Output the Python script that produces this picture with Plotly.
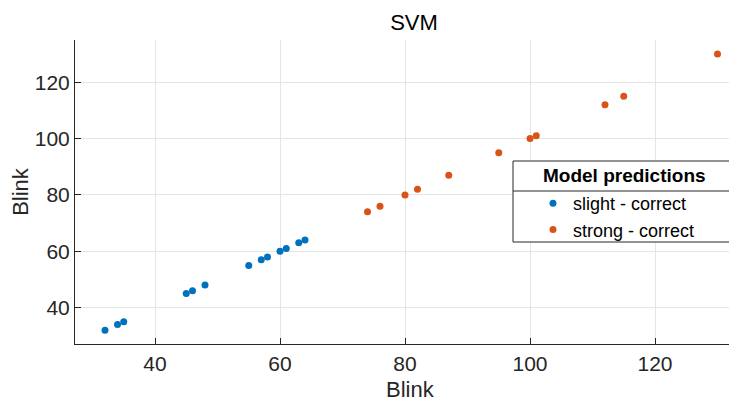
import plotly.graph_objects as go

# Data (x = y = Blink values)
slight_blink = [32, 34, 35, 45, 46, 48, 55, 57, 58, 60, 61, 63, 64]
strong_blink = [74, 76, 80, 82, 87, 95, 100, 101, 112, 115, 130]
x_ticks = [40, 60, 80, 100, 120]
y_ticks = [40, 60, 80, 100, 120]

FONT = "Liberation Sans, Arial, sans-serif"
AX = "#262626"

# the page body adds an 8px offset; size the figure so it fits the window
OFF = 8
W, H = 737 - OFF, 403 - OFF
# plot area in window pixels: x 75..735, y 40..344
L, R, T, B = 75 - OFF, 737 - 735, 40 - OFF, 403 - 344
PW, PH = 735 - 75, 344 - 40


def px(xp):
    return (xp - 75) / PW


def py(yp):
    return (344 - yp) / PH


fig = go.Figure()
fig.add_trace(go.Scatter(x=slight_blink, y=slight_blink, mode="markers",
                         name="slight - correct",
                         marker=dict(color="#0072BD", size=7)))
fig.add_trace(go.Scatter(x=strong_blink, y=strong_blink, mode="markers",
                         name="strong - correct",
                         marker=dict(color="#D95319", size=7)))

axis_common = dict(showline=True, linecolor=AX, linewidth=1, mirror=False,
                   ticks="inside", ticklen=6, tickcolor=AX, automargin=False,
                   showgrid=True, gridcolor="#e5e5e5", gridwidth=1,
                   zeroline=False, tickfont=dict(size=21, color=AX, family=FONT))

fig.update_xaxes(range=[27.2, 132.8], tickvals=x_ticks, ticklabelstandoff=1,
                 **axis_common)
fig.update_yaxes(range=[27.1, 135.0], tickvals=y_ticks,
                 title=dict(text="Blink", font=dict(size=22, color=AX, family=FONT), standoff=0),
                 **axis_common)

# x-axis title
fig.add_annotation(text="Blink", xref="paper", yref="paper",
                   x=px(411), y=py(389), xanchor="center", yanchor="middle",
                   showarrow=False, font=dict(size=22, color=AX, family=FONT))

# legend frame (box + divider under the title)
fig.add_shape(type="rect", xref="paper", yref="paper",
              x0=px(513), x1=px(735), y0=py(242), y1=py(161),
              line=dict(color=AX, width=1), fillcolor="white", layer="above")
fig.add_shape(type="line", xref="paper", yref="paper",
              x0=px(513), x1=px(735), y0=py(191), y1=py(191),
              line=dict(color=AX, width=1), layer="above")
fig.add_annotation(text="<b>Model predictions</b>", xref="paper", yref="paper",
                   x=px(624), y=py(176), xanchor="center", yanchor="middle",
                   showarrow=False, font=dict(size=19, color="#000000", family=FONT))

fig.update_layout(
    width=W, height=H,
    margin=dict(l=L, r=R, t=T, b=B),
    plot_bgcolor="white", paper_bgcolor="white",
    font=dict(family=FONT, color=AX),
    title=dict(text="SVM", x=px(414), xref="paper", xanchor="center",
               y=1 - (22 - OFF) / H, yref="container", yanchor="middle",
               font=dict(size=22, color="#000000", family=FONT)),
    showlegend=True,
    legend=dict(x=px(533), y=py(185), xanchor="left", yanchor="top",
                bgcolor="rgba(0,0,0,0)", borderwidth=0,
                font=dict(size=18, color="#000000", family=FONT),
                itemsizing="trace", tracegroupgap=0),
)

fig.write_html("out.html")
